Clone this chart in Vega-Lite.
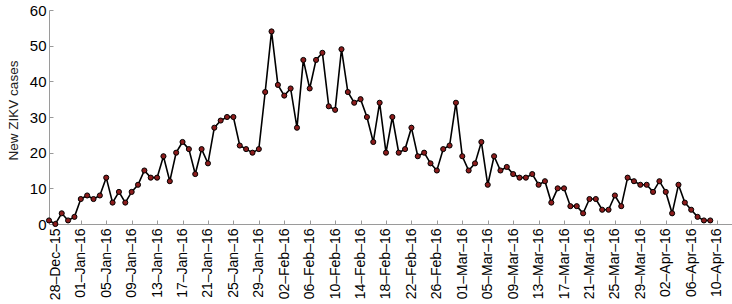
{
  "$schema": "https://vega.github.io/schema/vega-lite/v6.json",
  "width": 683,
  "height": 214,
  "autosize": "none",
  "padding": {"left": 49, "top": 10, "right": 0, "bottom": 80},
  "background": "white",
  "config": {
    "view": {"stroke": null},
    "font": "Liberation Sans",
    "axis": {
      "labelFont": "Liberation Sans",
      "titleFont": "Liberation Sans",
      "labelColor": "#000000",
      "domainColor": "#9a9a9a",
      "tickColor": "#9a9a9a",
      "grid": false
    }
  },
  "data": {
    "values": [
      {"date": "2015-12-27", "cases": 1},
      {"date": "2015-12-28", "cases": 0},
      {"date": "2015-12-29", "cases": 3},
      {"date": "2015-12-30", "cases": 1},
      {"date": "2015-12-31", "cases": 2},
      {"date": "2016-01-01", "cases": 7},
      {"date": "2016-01-02", "cases": 8},
      {"date": "2016-01-03", "cases": 7},
      {"date": "2016-01-04", "cases": 8},
      {"date": "2016-01-05", "cases": 13},
      {"date": "2016-01-06", "cases": 6},
      {"date": "2016-01-07", "cases": 9},
      {"date": "2016-01-08", "cases": 6},
      {"date": "2016-01-09", "cases": 9},
      {"date": "2016-01-10", "cases": 11},
      {"date": "2016-01-11", "cases": 15},
      {"date": "2016-01-12", "cases": 13},
      {"date": "2016-01-13", "cases": 13},
      {"date": "2016-01-14", "cases": 19},
      {"date": "2016-01-15", "cases": 12},
      {"date": "2016-01-16", "cases": 20},
      {"date": "2016-01-17", "cases": 23},
      {"date": "2016-01-18", "cases": 21},
      {"date": "2016-01-19", "cases": 14},
      {"date": "2016-01-20", "cases": 21},
      {"date": "2016-01-21", "cases": 17},
      {"date": "2016-01-22", "cases": 27},
      {"date": "2016-01-23", "cases": 29},
      {"date": "2016-01-24", "cases": 30},
      {"date": "2016-01-25", "cases": 30},
      {"date": "2016-01-26", "cases": 22},
      {"date": "2016-01-27", "cases": 21},
      {"date": "2016-01-28", "cases": 20},
      {"date": "2016-01-29", "cases": 21},
      {"date": "2016-01-30", "cases": 37},
      {"date": "2016-01-31", "cases": 54},
      {"date": "2016-02-01", "cases": 39},
      {"date": "2016-02-02", "cases": 36},
      {"date": "2016-02-03", "cases": 38},
      {"date": "2016-02-04", "cases": 27},
      {"date": "2016-02-05", "cases": 46},
      {"date": "2016-02-06", "cases": 38},
      {"date": "2016-02-07", "cases": 46},
      {"date": "2016-02-08", "cases": 48},
      {"date": "2016-02-09", "cases": 33},
      {"date": "2016-02-10", "cases": 32},
      {"date": "2016-02-11", "cases": 49},
      {"date": "2016-02-12", "cases": 37},
      {"date": "2016-02-13", "cases": 34},
      {"date": "2016-02-14", "cases": 35},
      {"date": "2016-02-15", "cases": 30},
      {"date": "2016-02-16", "cases": 23},
      {"date": "2016-02-17", "cases": 34},
      {"date": "2016-02-18", "cases": 20},
      {"date": "2016-02-19", "cases": 30},
      {"date": "2016-02-20", "cases": 20},
      {"date": "2016-02-21", "cases": 21},
      {"date": "2016-02-22", "cases": 27},
      {"date": "2016-02-23", "cases": 19},
      {"date": "2016-02-24", "cases": 20},
      {"date": "2016-02-25", "cases": 17},
      {"date": "2016-02-26", "cases": 15},
      {"date": "2016-02-27", "cases": 21},
      {"date": "2016-02-28", "cases": 22},
      {"date": "2016-02-29", "cases": 34},
      {"date": "2016-03-01", "cases": 19},
      {"date": "2016-03-02", "cases": 15},
      {"date": "2016-03-03", "cases": 17},
      {"date": "2016-03-04", "cases": 23},
      {"date": "2016-03-05", "cases": 11},
      {"date": "2016-03-06", "cases": 19},
      {"date": "2016-03-07", "cases": 15},
      {"date": "2016-03-08", "cases": 16},
      {"date": "2016-03-09", "cases": 14},
      {"date": "2016-03-10", "cases": 13},
      {"date": "2016-03-11", "cases": 13},
      {"date": "2016-03-12", "cases": 14},
      {"date": "2016-03-13", "cases": 11},
      {"date": "2016-03-14", "cases": 12},
      {"date": "2016-03-15", "cases": 6},
      {"date": "2016-03-16", "cases": 10},
      {"date": "2016-03-17", "cases": 10},
      {"date": "2016-03-18", "cases": 5},
      {"date": "2016-03-19", "cases": 5},
      {"date": "2016-03-20", "cases": 3},
      {"date": "2016-03-21", "cases": 7},
      {"date": "2016-03-22", "cases": 7},
      {"date": "2016-03-23", "cases": 4},
      {"date": "2016-03-24", "cases": 4},
      {"date": "2016-03-25", "cases": 8},
      {"date": "2016-03-26", "cases": 5},
      {"date": "2016-03-27", "cases": 13},
      {"date": "2016-03-28", "cases": 12},
      {"date": "2016-03-29", "cases": 11},
      {"date": "2016-03-30", "cases": 11},
      {"date": "2016-03-31", "cases": 9},
      {"date": "2016-04-01", "cases": 12},
      {"date": "2016-04-02", "cases": 9},
      {"date": "2016-04-03", "cases": 3},
      {"date": "2016-04-04", "cases": 11},
      {"date": "2016-04-05", "cases": 6},
      {"date": "2016-04-06", "cases": 4},
      {"date": "2016-04-07", "cases": 2},
      {"date": "2016-04-08", "cases": 1},
      {"date": "2016-04-09", "cases": 1}
    ]
  },
  "encoding": {
    "x": {
      "field": "date",
      "type": "temporal",
      "scale": {
        "type": "utc",
        "domain": [
          {"year": 2015, "month": 12, "date": 27, "utc": true},
          {"year": 2016, "month": 4, "date": 12, "hours": 10, "utc": true}
        ]
      },
      "axis": {
        "title": null,
        "format": "%d–%b–%y",
        "labelAngle": -90,
        "labelAlign": "right",
        "labelBaseline": "middle",
        "labelFontSize": 14,
        "labelPadding": 8,
        "tickSize": -4,
        "labelOverlap": false,
        "labelFlush": false,
        "values": [
          {"year": 2015, "month": 12, "date": 28, "utc": true},
          {"year": 2016, "month": 1, "date": 1, "utc": true},
          {"year": 2016, "month": 1, "date": 5, "utc": true},
          {"year": 2016, "month": 1, "date": 9, "utc": true},
          {"year": 2016, "month": 1, "date": 13, "utc": true},
          {"year": 2016, "month": 1, "date": 17, "utc": true},
          {"year": 2016, "month": 1, "date": 21, "utc": true},
          {"year": 2016, "month": 1, "date": 25, "utc": true},
          {"year": 2016, "month": 1, "date": 29, "utc": true},
          {"year": 2016, "month": 2, "date": 2, "utc": true},
          {"year": 2016, "month": 2, "date": 6, "utc": true},
          {"year": 2016, "month": 2, "date": 10, "utc": true},
          {"year": 2016, "month": 2, "date": 14, "utc": true},
          {"year": 2016, "month": 2, "date": 18, "utc": true},
          {"year": 2016, "month": 2, "date": 22, "utc": true},
          {"year": 2016, "month": 2, "date": 26, "utc": true},
          {"year": 2016, "month": 3, "date": 1, "utc": true},
          {"year": 2016, "month": 3, "date": 5, "utc": true},
          {"year": 2016, "month": 3, "date": 9, "utc": true},
          {"year": 2016, "month": 3, "date": 13, "utc": true},
          {"year": 2016, "month": 3, "date": 17, "utc": true},
          {"year": 2016, "month": 3, "date": 21, "utc": true},
          {"year": 2016, "month": 3, "date": 25, "utc": true},
          {"year": 2016, "month": 3, "date": 29, "utc": true},
          {"year": 2016, "month": 4, "date": 2, "utc": true},
          {"year": 2016, "month": 4, "date": 6, "utc": true},
          {"year": 2016, "month": 4, "date": 10, "utc": true}
        ]
      }
    },
    "y": {
      "field": "cases",
      "type": "quantitative",
      "scale": {"domain": [0, 60], "nice": false},
      "axis": {
        "title": "New ZIKV cases",
        "titleFontSize": 13.5,
        "titleFontWeight": "normal",
        "titleColor": "#222222",
        "titlePadding": 9,
        "titleY": 100,
        "values": [0, 10, 20, 30, 40, 50, 60],
        "labelFontSize": 15,
        "labelPadding": 7,
        "tickSize": -4
      }
    }
  },
  "layer": [
    {"mark": {"type": "line", "color": "#000000", "strokeWidth": 1.6}},
    {"mark": {"type": "point", "filled": true, "fill": "#8B1C1C", "stroke": "#000000", "strokeWidth": 1, "size": 26, "opacity": 1}}
  ]
}
